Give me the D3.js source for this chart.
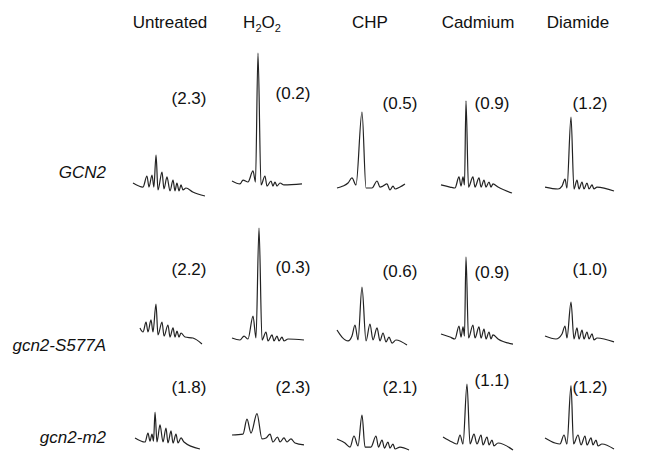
<!DOCTYPE html>
<html>
<head>
<meta charset="utf-8">
<script src="https://cdn.jsdelivr.net/npm/d3@7"></script>
<style>
  body { margin: 0; background: #fff; }
  text { font-family: "Liberation Sans", Arial, sans-serif; fill: #111; }
</style>
</head>
<body>
<div id="chart"></div>
<script>
// Column and row names
const treatments = ["Untreated", "H2O2", "CHP", "Cadmium", "Diamide"];
const strains = ["GCN2", "gcn2-S577A", "gcn2-m2"];

// Polysome/monosome ratios shown in brackets
const ratiosGCN2 = [2.3, 0.2, 0.5, 0.9, 1.2];
const ratiosS577A = [2.2, 0.3, 0.6, 0.9, 1.0];
const ratiosM2 = [1.8, 2.3, 2.1, 1.1, 1.2];

// Profiles: [sedimentation position 0-100, absorbance units]
const gcn2Untreated = [[0,9.3],[13.9,6.4],[19.4,14.3],[22.2,6.4],[26.4,15],[29,6.4],[32,29.3],[34.7,4.3],[40.3,17.1],[43,5],[47.2,13.6],[51.4,3.6],[55.6,11.4],[58.3,3.6],[61,9.3],[63.9,3.6],[66.7,7.9],[69.4,4.3],[73.6,5.7],[83,2.9],[100,0]];
const gcn2H2O2 = [[0,10.7],[11.1,8.6],[15.3,11.4],[22.2,10],[29.2,17.9],[32.6,10],[36.1,102],[40.3,7.9],[45.8,14.3],[48.6,7.1],[54.2,10.7],[56.9,7.1],[59.7,10],[62.5,7.1],[66.7,9.3],[72.2,7.9],[97.2,8.6]];
const gcn2CHP = [[0,5.7],[8.3,7.1],[15.3,9.3],[20.8,12.9],[26.4,7.9],[34.7,60],[40.3,5.7],[48.6,5.7],[55.6,10.7],[59.7,6.4],[63.9,7.1],[69.4,8.6],[73.6,4.3],[77.8,7.1],[80.6,5],[87.5,6.4],[94.4,8.6]];
const gcn2Cadmium = [[0,7.9],[12.5,6.4],[19.4,5.7],[25,13.6],[27.8,7.1],[30.6,13.6],[32.6,7.9],[34.7,68],[38.2,6.4],[44.4,13.6],[47.2,6.4],[52.8,12.9],[55.6,6.4],[59.7,11.4],[62.5,6.4],[66.7,10],[69.4,6.4],[72.2,8.6],[79.2,6.4],[98.6,2.1]];
const gcn2Diamide = [[2.8,6.4],[20.8,5],[26.4,7.1],[30.6,12.1],[33.3,5.7],[38.9,56.4],[43,5],[47.2,11.4],[50,5],[54.2,10],[56.9,5],[61.1,9.3],[63.9,5],[68.1,7.9],[70.8,5],[75,6.4],[98.6,3.6]];

const s577aUntreated = [[9.7,12.9],[13.9,10],[18.1,17.1],[20.8,10],[25,18.6],[27.8,10],[31.9,30],[34.7,7.9],[40.3,17.1],[43.1,7.1],[48.6,15],[51.4,6.4],[55.6,12.9],[58.3,6.4],[61.1,10.7],[63.9,6.4],[66.7,9.3],[72.2,6.4],[83.3,5.7],[95.8,1.4]];
const s577aH2O2 = [[0,5.7],[11.1,4.3],[16.7,7.1],[22.2,5],[29.2,21.4],[33.3,5.7],[37.5,84.3],[41.7,4.3],[47.2,10],[50,3.6],[55.6,7.9],[58.3,3.6],[62.5,7.1],[65.3,3.6],[69.4,6.4],[72.2,3.6],[77.8,5],[100,4.3]];
const s577aCHP = [[0,11.4],[6.9,6.4],[15.3,3.6],[20.8,7.1],[25,15],[29.2,4.3],[34.7,42.1],[40.3,3.6],[45.8,15.7],[50,4.3],[55.6,12.9],[59.7,3.6],[63.9,9.3],[68.1,2.9],[72.2,6.4],[76.4,2.1],[81.9,4.3],[97.2,0.7]];
const s577aCadmium = [[0,8.6],[12.5,6.4],[19.4,5],[25,14.3],[27.8,6.4],[30.6,13.6],[32.6,7.1],[34.7,63.6],[38.2,5.7],[44.4,15],[47.2,5.7],[52.8,13.6],[55.6,5.7],[59.7,12.1],[62.5,5],[66.7,10],[69.4,5],[72.2,7.9],[79.2,5],[100,1.4]];
const s577aDiamide = [[2.8,7.1],[18,5],[26.4,8.6],[30.6,14.3],[33.3,5.7],[38.9,31.4],[43,5],[47.2,12.9],[50,5],[54.2,11.4],[56.9,5],[61.1,10],[63.9,5],[68.1,8.6],[70.8,4.3],[75,5.7],[98.6,2.9]];

const m2Untreated = [[2.8,8.6],[16.7,5.7],[20.8,12.1],[23.6,6.4],[26.4,11.4],[28.5,6.4],[30.6,27],[33.3,5.7],[37.5,17.9],[41.7,5.7],[45.8,15.7],[48.6,5],[52.8,13.6],[55.6,5],[59.7,11.4],[62.5,5],[66.7,8.6],[70.8,5.7],[93,0.7]];
const m2H2O2 = [[0,10.7],[15.3,11.4],[20.8,22],[26.4,12.1],[34.7,26],[41.7,7.9],[47.2,8.6],[52.8,11.4],[56.9,5.7],[63.2,9.3],[66.7,5.7],[72.2,8.6],[76.4,5.7],[81.9,7.9],[87.5,5],[100,3.6]];
const m2CHP = [[0,7.9],[11.1,5],[18.1,2.1],[23.6,10],[29.2,2.9],[34.7,25],[38.9,2.1],[47.2,2.1],[54.2,10],[57.6,2.1],[62.5,7.1],[66,1.4],[70.8,5.7],[73.6,1.4],[77.8,4.3],[80.6,0.7],[87.5,2.1],[100,0]];
const m2Cadmium = [[2.8,9.3],[15.3,5.7],[22.2,4.3],[26.4,10.7],[30.6,4.3],[36.1,47],[40.3,4.3],[45.8,11.4],[50,4.3],[55.6,10.7],[58.3,3.6],[63.9,9.3],[66.7,3.6],[70.8,7.1],[73.6,2.9],[79.2,5],[100,0]];
const m2Diamide = [[2.8,8.6],[16.7,5],[23.6,4.3],[29.2,10.7],[33.3,4.3],[38.9,46],[42.4,4.3],[48.6,10.7],[52.8,3.6],[58.3,10],[61.1,3.6],[66.7,8.6],[69.4,3.6],[73.6,7.1],[76.4,2.9],[81.9,4.3],[98.6,0.7]];

// Table built from the arrays above
const profiles = [
    [gcn2Untreated, gcn2H2O2, gcn2CHP, gcn2Cadmium, gcn2Diamide],
    [s577aUntreated, s577aH2O2, s577aCHP, s577aCadmium, s577aDiamide],
    [m2Untreated, m2H2O2, m2CHP, m2Cadmium, m2Diamide]
];
const ratios = [ratiosGCN2, ratiosS577A, ratiosM2];

// Layout
const width = 649, height = 460;
const colLeft = [133, 232, 337, 441, 543];
const headerX = [170, 262, 370, 478, 578];
const rowBase = [196, 346, 450];
const rowLabelY = [178, 351, 443];
const ratioX = [189, 293, 400, 492, 590];
const ratioY = [[104, 99, 109, 109, 109], [275, 273, 277, 278, 275], [393, 393, 393, 386, 393]];

const svg = d3.select("#chart")
    .append("svg")
    .attr("width", width)
    .attr("height", height);

// Scales shared by all traces
const xScale = d3.scaleLinear().domain([0, 100]).range([0, 72]);
const yScale = d3.scaleLinear().domain([0, 100]).range([0, -140]);

const line = d3.line()
    .x(d => xScale(d[0]))
    .y(d => yScale(d[1]))
    .curve(d3.curveMonotoneX);

// Column headers
treatments.forEach((t, i) => {
    const txt = svg.append("text")
        .attr("x", headerX[i])
        .attr("y", 28)
        .attr("text-anchor", "middle")
        .style("font-size", "17px");
    if (t === "H2O2") {
        txt.append("tspan").text("H");
        txt.append("tspan").text("2").style("font-size", "11px").attr("dy", 4);
        txt.append("tspan").text("O").attr("dy", -4);
        txt.append("tspan").text("2").style("font-size", "11px").attr("dy", 4);
    } else {
        txt.text(t);
    }
});

// Row labels
strains.forEach((s, r) => {
    svg.append("text")
        .attr("x", 106)
        .attr("y", rowLabelY[r])
        .attr("text-anchor", "end")
        .style("font-size", "17px")
        .style("font-style", "italic")
        .text(s);
});

// Traces and ratio labels
profiles.forEach((row, r) => {
    row.forEach((prof, c) => {
        svg.append("g")
            .attr("transform", `translate(${colLeft[c]},${rowBase[r]})`)
            .append("path")
            .datum(prof)
            .attr("fill", "none")
            .attr("stroke", "#222")
            .attr("stroke-width", 1.2)
            .attr("d", line);

        svg.append("text")
            .attr("x", ratioX[c])
            .attr("y", ratioY[r][c])
            .attr("text-anchor", "middle")
            .style("font-size", "17px")
            .text(`(${ratios[r][c].toFixed(1)})`);
    });
});
</script>
</body>
</html>
